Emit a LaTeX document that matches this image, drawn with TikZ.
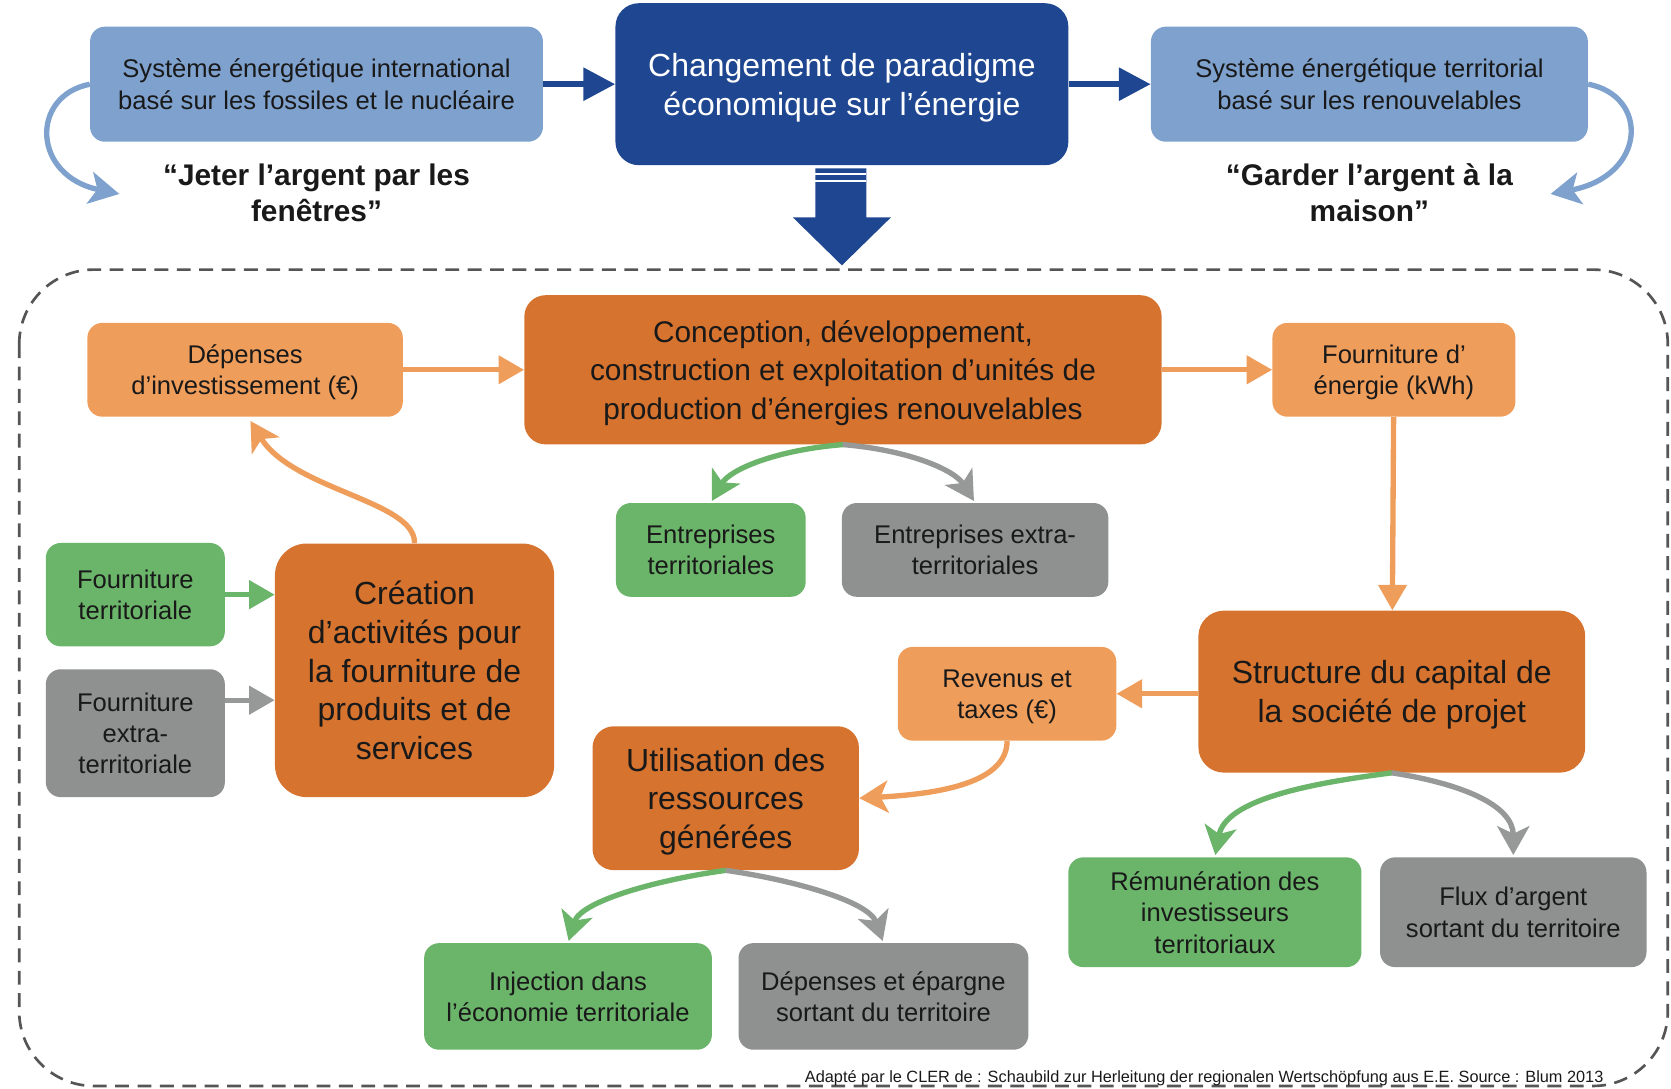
\documentclass[tikz,border=0pt]{standalone}
\usepackage{fontspec}
\setmainfont{Liberation Sans}
\usetikzlibrary{arrows.meta}
\definecolor{lblue}{RGB}{126,161,206}
\definecolor{dblue}{RGB}{31,70,144}
\definecolor{dorange}{RGB}{214,115,47}
\definecolor{lorange}{RGB}{239,157,91}
\definecolor{lgreen}{RGB}{107,181,106}
\definecolor{mgray}{RGB}{142,145,144}
\definecolor{agray}{RGB}{150,153,151}
\definecolor{borderc}{RGB}{85,85,85}
\definecolor{txt}{RGB}{25,25,25}
\tikzset{
  box/.style={rounded corners=14pt, align=center, inner sep=0pt, text=txt,
    font=\fontsize{24}{29.5}\selectfont},
  sm/.style={box, text height=17.5pt+#1*29.5pt, text depth=0pt},
  big/.style={box, rounded corners=24pt, fill=dorange, font=\fontsize{30}{36.5}\selectfont,
    text height=22pt+#1*36.5pt, text depth=0pt},
  quote/.style={align=center, font=\bfseries\fontsize{28}{34}\selectfont, text=txt},
  sarr/.style={line width=5pt, -{Triangle[length=24pt,width=26pt]}},
  carr/.style={line width=5pt, -{Stealth[length=27pt,width=30pt,inset=7pt]}},
  barr/.style={line width=6pt, dblue, -{Triangle[length=30pt,width=30pt]}},
}
\begin{document}
\begin{tikzpicture}[x=1pt,y=-1pt]
\useasboundingbox (0,0) rectangle (1568,1021);

% top row
\node[sm=1, fill=lblue, minimum width=425pt, minimum height=108pt] (A) at (297,79)
  {Système énergétique international\\basé sur les fossiles et le nucléaire};
\node[box, fill=dblue, text=white, rounded corners=22pt, minimum width=425pt, minimum height=152pt,
  font=\fontsize{30}{36}\selectfont, text height=58pt, text depth=0pt] (B) at (790,79)
  {Changement de paradigme\\économique sur l’énergie};
\node[sm=1, fill=lblue, minimum width=410pt, minimum height=108pt] (C) at (1285,79)
  {Système énergétique territorial\\basé sur les renouvelables};
\node[quote] (Q1) at (297,181) {“Jeter l’argent par les\\fenêtres”};
\node[quote] (Q2) at (1285,181) {“Garder l’argent à la\\maison”};

\draw[barr] (A) -- (B);
\draw[barr] (B) -- (C);

\coordinate (L1) at (112,182);
\coordinate (R1) at (1455,182);
\draw[line width=5pt, lblue, -{Stealth[length=28pt,width=30pt,inset=7pt]}]
  (A.west) .. controls (28,90) and (30,165) .. (L1);
\draw[line width=5pt, lblue, -{Stealth[length=28pt,width=30pt,inset=7pt]}]
  (C.east) .. controls (1548,90) and (1545,165) .. (R1);

% big down arrow
\fill[dblue] (765,158) -- (813,158) -- (813,204) -- (836,204) -- (790,249) -- (744,204) -- (765,204) -- cycle;
\fill[white] (765,162.5) rectangle (813,164.5);
\fill[white] (765,169) rectangle (813,171);

% dashed frame
\draw[borderc, line width=2.5pt, dash pattern=on 13pt off 8pt, rounded corners=70pt]
  (18,253) rectangle (1565,1019);

% inner nodes
\node[sm=1, fill=lorange, minimum width=296pt, minimum height=88pt] (dep) at (230,347)
  {Dépenses\\d’investissement (€)};
\node[box, fill=dorange, minimum width=598pt, minimum height=140pt, rounded corners=20pt,
  font=\fontsize{28}{36}\selectfont, text height=92.5pt, text depth=0pt] (conc) at (791,347)
  {Conception, développement,\\construction et exploitation d’unités de\\production d’énergies renouvelables};
\node[sm=1, fill=lorange, minimum width=228pt, minimum height=88pt] (fen) at (1308,347)
  {Fourniture d’\\énergie (kWh)};
\node[sm=1, fill=lgreen, minimum width=178pt, minimum height=88pt] (entT) at (667,516)
  {Entreprises\\territoriales};
\node[sm=1, fill=mgray, minimum width=250pt, minimum height=88pt] (entX) at (915,516)
  {Entreprises extra-\\territoriales};
\node[sm=1, fill=lgreen, minimum width=168pt, minimum height=97pt] (fourT) at (127,558)
  {Fourniture\\territoriale};
\node[sm=2, fill=mgray, minimum width=168pt, minimum height=120pt] (fourX) at (127,688)
  {Fourniture\\extra-\\territoriale};
\node[big=4, minimum width=262pt, minimum height=238pt, rounded corners=30pt] (crea) at (389,629)
  {Création\\d’activités pour\\la fourniture de\\produits et de\\services};
\node[sm=1, fill=lorange, minimum width=205pt, minimum height=88pt] (rev) at (945,651)
  {Revenus et\\taxes (€)};
\node[big=1, minimum width=363pt, minimum height=152pt] (struct) at (1306,649)
  {Structure du capital de\\la société de projet};
\node[big=2, minimum width=250pt, minimum height=135pt, rounded corners=20pt] (util) at (681,749)
  {Utilisation des\\ressources\\générées};
\node[sm=1, fill=lgreen, minimum width=270pt, minimum height=100pt] (inj) at (533,935)
  {Injection dans\\l’économie territoriale};
\node[sm=1, fill=mgray, minimum width=272pt, minimum height=100pt] (depX) at (829,935)
  {Dépenses et épargne\\sortant du territoire};
\node[sm=2, fill=lgreen, minimum width=275pt, minimum height=103pt] (rem) at (1140,856)
  {Rémunération des\\investisseurs\\territoriaux};
\node[sm=1, fill=mgray, minimum width=250pt, minimum height=103pt] (flux) at (1420,856)
  {Flux d'argent\\sortant du territoire};

\node[font=\fontsize{15.3}{17}\selectfont, text=txt, inner sep=0pt] (src) at (1130,1012)
  {Adapté par le CLER de : Schaubild zur Herleitung der regionalen Wertschöpfung aus E.E. Source : Blum 2013};

% straight arrows
\draw[sarr, lorange] (dep) -- (conc);
\draw[sarr, lorange] (conc) -- (fen);
\draw[sarr, lorange] (fen) -- (struct);
\draw[sarr, lorange] (struct.west |- rev.east) -- (rev.east);
\draw[sarr, lgreen] (fourT.east) -- (fourT.east -| crea.west);
\draw[sarr, agray] (fourX.east |- 0,657) -- (crea.west |- 0,657);

% curved arrows
\draw[carr, lorange] (crea.north) .. controls (390,470) and (275,460) .. (235,395);
\draw[carr, lorange] (rev.south) .. controls (945,735) and (880,745) .. (util.east);
\draw[carr, lgreen, shorten >=2pt] (conc.south) .. controls (730,422) and (685,440) .. (entT.north);
\draw[carr, agray, shorten >=2pt] (conc.south) .. controls (850,422) and (895,440) .. (entX.north);
\draw[carr, lgreen, shorten >=2pt] (util.south) .. controls (620,825) and (545,845) .. (inj.north);
\draw[carr, agray, shorten >=2pt] (util.south) .. controls (740,825) and (815,845) .. (depX.north);
\draw[carr, lgreen, shorten >=2pt] (struct.south) .. controls (1230,735) and (1150,750) .. (rem.north);
\draw[carr, agray, shorten >=2pt] (struct.south) .. controls (1370,735) and (1420,755) .. (flux.north);
\end{tikzpicture}
\end{document}
